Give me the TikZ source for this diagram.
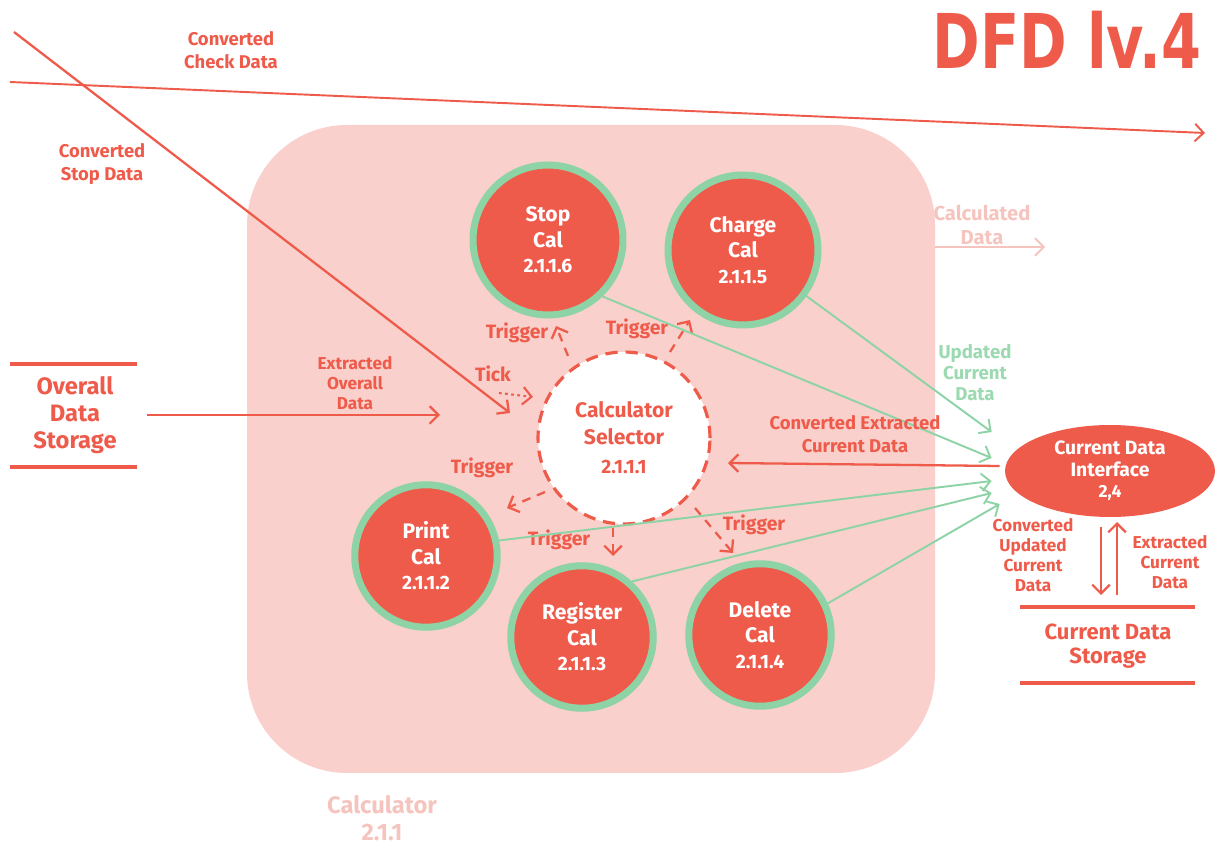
\documentclass[tikz,border=0pt]{standalone}
\usepackage{fontspec}
\setmainfont{Fira Sans}
\newfontfamily\titlefont{DejaVu Sans}[FakeStretch=0.76]
\usetikzlibrary{arrows.meta,calc,shapes.geometric}
\definecolor{cred}{HTML}{EF5B4B}
\definecolor{cpink}{HTML}{F9D0CB}
\definecolor{cgreen}{HTML}{8DD3A5}
\definecolor{cgtext}{HTML}{9BD9B0}
\definecolor{cfaint}{HTML}{F6C4BE}
\begin{document}
\begin{tikzpicture}[x=0.02cm,y=-0.02cm,
  proc/.style={circle, fill=cred, draw=cgreen, line width=4pt, text=white, align=center,
    font=\bfseries\fontsize{12}{14.5}\selectfont, minimum size=3cm, inner sep=0pt},
  lbl/.style={text=cred, align=center, font=\bfseries\fontsize{10.5}{13}\selectfont, inner sep=0pt},
  slbl/.style={text=cred, align=center, font=\bfseries\fontsize{9.8}{11.4}\selectfont, inner sep=0pt},
  tip/.style={-{Straight Barb[length=5pt,width=10pt]}},
  flow/.style={draw=cred, line width=1.3pt, tip},
  gflow/.style={draw=cgreen, line width=1.1pt, tip},
  trig/.style={draw=cred, line width=1.3pt, dash pattern=on 5pt off 4pt, tip},
  store/.style={draw=cred, line width=2.6pt},
  storetext/.style={text=cred, align=center, inner sep=0pt}]
\useasboundingbox (0,0) rectangle (1218,847);

% background process group
\fill[cpink, rounded corners=2cm] (247,125) rectangle (935,773);
\node[text=cfaint, align=center, font=\bfseries\fontsize{13.5}{15.3}\selectfont] (calc) at (382,818) {Calculator\\2.1.1};

% title
\node[text=cred, font=\titlefont\bfseries\fontsize{43}{43}\selectfont, inner sep=0pt] (title) at (1067,40) {DFD lv.4};

% processes
\node[circle, draw=cred, fill=white, line width=1.8pt, dash pattern=on 7pt off 4.5pt,
      minimum size=3.44cm, inner sep=0pt, text=cred, align=center,
      font=\bfseries\fontsize{12}{15}\selectfont] (sel) at (624,438)
      {Calculator\\Selector\\[2pt]{\fontsize{11}{15}\selectfont 2.1.1.1}};
\node[proc] (stop)   at (548,240) {Stop\\Cal\\{\fontsize{11}{14.5}\selectfont 2.1.1.6}};
\node[proc] (charge) at (743,250) {Charge\\Cal\\{\fontsize{11}{14.5}\selectfont 2.1.1.5}};
\node[proc, minimum size=2.85cm] (print)  at (426,556) {Print\\Cal\\{\fontsize{11}{14.5}\selectfont 2.1.1.2}};
\node[proc, minimum size=2.85cm] (reg)    at (582,637) {Register\\Cal\\{\fontsize{11}{14.5}\selectfont 2.1.1.3}};
\node[proc, minimum size=2.85cm] (del)    at (760,635) {Delete\\Cal\\{\fontsize{11}{14.5}\selectfont 2.1.1.4}};

% interface
\node[ellipse, fill=cred, minimum width=4.2cm, minimum height=1.84cm, inner sep=0pt,
      text=white, align=center, font=\bfseries\fontsize{11}{12.3}\selectfont] (cdi) at (1110,471)
      {Current Data\\Interface\\{\fontsize{10}{12.3}\selectfont 2,4}};

% stores
\node[storetext, font=\bfseries\fontsize{13.5}{15.5}\selectfont] (ods) at (75,415) {Overall\\Data\\Storage};
\draw[store] ($(ods)+(-65,-51)$) -- ($(ods)+(62,-51)$);
\draw[store] ($(ods)+(-65,52)$) -- ($(ods)+(62,52)$);
\node[storetext, font=\bfseries\fontsize{12.5}{13.5}\selectfont] (cds) at (1108,646) {Current Data\\Storage};
\draw[store] ($(cds)+(-88,-39)$) -- ($(cds)+(87,-39)$);
\draw[store] ($(cds)+(-88,37)$) -- ($(cds)+(87,37)$);

% free ends
\coordinate (chkS) at (10,82);
\coordinate (chkE) at (1205,133);
\coordinate (stpS) at (14,32);
\coordinate (calcE) at (1045,247);
\coordinate (calcS) at (935,247);

% external flows
\draw[flow, line width=1.1pt] (chkS) -- (chkE);
\node[lbl] (lchk) at (231,50) {Converted\\Check Data};
\draw[flow, line width=1.3pt] (stpS) -- ($(sel)+(-114,-25)$);
\node[lbl] (lstp) at (102,164) {Converted\\Stop Data};
\draw[flow] ($(ods)+(72,0)$) -- ($(sel)+(-184,-23)$);
\node[slbl] (lext) at (355,383) {Extracted\\Overall\\Data};
\draw[draw=cfaint, line width=1.1pt, tip] (calcS) -- (calcE);
\node[text=cfaint, align=center, font=\bfseries\fontsize{11.5}{14}\selectfont, inner sep=0pt] (lcalc) at (982,225) {Calculated\\Data};

% tick
\draw[draw=cred, line width=1.2pt, dash pattern=on 1.5pt off 2pt, tip] ($(sel)+(-125,-45)$) -- ($(sel)+(-91,-41)$);
\node[lbl, font=\bfseries\fontsize{11}{13}\selectfont] (ltick) at (493,374) {Tick};

% triggers
\draw[trig] ($(sel)+(-56,-82)$) -- ($(stop)+(8,86)$);
\node[lbl, font=\bfseries\fontsize{11}{13}\selectfont] (lt1) at (517,333) {Trigger};
\draw[trig] ($(sel)+(46,-86)$) -- ($(charge)+(-53,70)$);
\node[lbl, font=\bfseries\fontsize{11}{13}\selectfont] (lt2) at (637,329) {Trigger};
\draw[trig] ($(sel)+(-79,54)$) -- ($(print)+(81,-48)$);
\node[lbl, font=\bfseries\fontsize{11}{13}\selectfont] (lt3) at (482,468) {Trigger};
\draw[trig] ($(sel)+(-11,90)$) -- ($(reg)+(31,-81)$);
\node[lbl, font=\bfseries\fontsize{11}{13}\selectfont] (lt4) at (559,540) {Trigger};
\draw[trig] ($(sel)+(71,70)$) -- ($(del)+(-27,-82)$);
\node[lbl, font=\bfseries\fontsize{11}{13}\selectfont] (lt5) at (754,525) {Trigger};

% updated current data (green)
\draw[gflow] (charge.-36) -- ($(cdi.west)+(-13,-39)$);
\draw[gflow] (stop.-46) -- ($(cdi.west)+(-13,-13)$);
\draw[gflow] (print.12) -- ($(cdi.west)+(-13,10)$);
\draw[gflow] (reg.48) -- ($(cdi.west)+(-13,22)$);
\draw[gflow] (del.25) -- ($(cdi.west)+(-5,33)$);
\node[text=cgtext, align=center, font=\bfseries\fontsize{10.6}{12}\selectfont, inner sep=0pt] (lupd) at (975,373) {Updated\\Current\\Data};

% converted extracted current data
\draw[flow] ($(cdi.west)+(-5,-5)$) -- ($(sel)+(104,25)$);
\node[lbl] (lcec) at (855,434) {Converted Extracted\\Current Data};

% store flows
\draw[flow] ($(cdi)+(-9,56)$) -- ($(cds)+(-7,-51)$);
\draw[flow] ($(cds)+(9,-51)$) -- ($(cdi)+(7,51)$);
\node[slbl] (lcu) at (1033,555) {Converted\\Updated\\Current\\Data};
\node[slbl] (lec) at (1170,562) {Extracted\\Current\\Data};
\end{tikzpicture}
\end{document}
